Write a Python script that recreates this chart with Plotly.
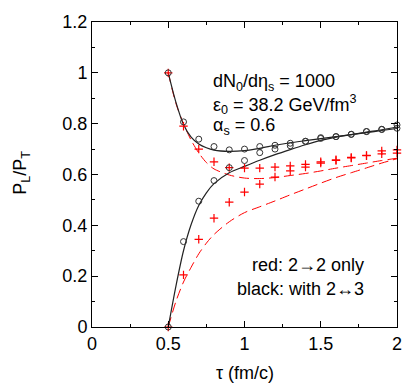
import plotly.graph_objects as go

# tau grid for the data points (fm/c)
tau_pts = [0.5, 0.6, 0.7, 0.8, 0.9, 1.0, 1.1, 1.2, 1.3, 1.4, 1.5, 1.6, 1.7, 1.8, 1.9, 2.0]

# black circles: with 2<->3
black_upper_pts = [1.0, 0.807, 0.739, 0.71, 0.697, 0.70, 0.71, 0.715, 0.723, 0.731, 0.745, 0.749, 0.758, 0.769, 0.778, 0.795]
black_lower_pts = [0.0, 0.336, 0.495, 0.576, 0.627, 0.655, 0.686, 0.70, 0.713, 0.73, 0.742, 0.749, 0.758, 0.769, 0.777, 0.782]

# red crosses: 2->2 only
red_upper_pts = [1.0, 0.79, 0.70, 0.65, 0.627, 0.625, 0.625, 0.629, 0.634, 0.64, 0.65, 0.658, 0.667, 0.675, 0.693, 0.697]
red_lower_pts = [0.0, 0.205, 0.345, 0.428, 0.491, 0.531, 0.562, 0.59, 0.614, 0.629, 0.645, 0.655, 0.665, 0.674, 0.681, 0.684]

# curves
tau_line = [0.5, 0.55, 0.6, 0.65, 0.7, 0.75, 0.8, 0.9, 1.0, 1.1, 1.2, 1.3, 1.4, 1.5, 1.6, 1.7, 1.8, 1.9, 2.0]
black_upper_line = [1.0, 0.885, 0.797, 0.747, 0.72, 0.705, 0.696, 0.691, 0.694, 0.703, 0.715, 0.725, 0.733, 0.741, 0.749, 0.757, 0.765, 0.773, 0.781]
black_lower_line = [0.0, 0.16, 0.3, 0.403, 0.478, 0.528, 0.564, 0.607, 0.632, 0.656, 0.678, 0.698, 0.717, 0.734, 0.747, 0.757, 0.767, 0.776, 0.787]
red_upper_line = [1.0, 0.88, 0.8, 0.735, 0.685, 0.647, 0.622, 0.598, 0.586, 0.584, 0.588, 0.596, 0.604, 0.614, 0.625, 0.635, 0.645, 0.655, 0.664]
red_lower_line = [0.0, 0.1, 0.177, 0.235, 0.288, 0.33, 0.364, 0.414, 0.45, 0.473, 0.496, 0.52, 0.543, 0.566, 0.588, 0.607, 0.626, 0.645, 0.662]

x_ticks = [0, 0.5, 1, 1.5, 2]
x_labels = ["0", "0.5", "1", "1.5", "2"]
y_ticks = [0, 0.2, 0.4, 0.6, 0.8, 1, 1.2]
y_labels = ["0", "0.2", "0.4", "0.6", "0.8", "1", "1.2"]

FONT = "Liberation Sans, Arial, sans-serif"
FS = 18
RED = "#ff0000"
DARK = "#222222"

fig = go.Figure()

for ys in (red_upper_line, red_lower_line):
    fig.add_trace(go.Scatter(
        x=tau_line, y=ys, mode="lines", line_shape="spline", line_smoothing=0.8,
        line=dict(color=RED, width=1, dash="10px,5px"),
        showlegend=False, hoverinfo="skip"
    ))

for ys in (black_upper_line, black_lower_line):
    fig.add_trace(go.Scatter(
        x=tau_line, y=ys, mode="lines", line_shape="spline", line_smoothing=0.8,
        line=dict(color=DARK, width=1.2),
        showlegend=False, hoverinfo="skip"
    ))

for ys in (red_upper_pts, red_lower_pts):
    fig.add_trace(go.Scatter(
        x=tau_pts, y=ys, mode="markers",
        marker=dict(symbol="cross-thin", size=6, line=dict(color=RED, width=1.2)),
        showlegend=False, cliponaxis=False
    ))

for ys in (black_upper_pts, black_lower_pts):
    fig.add_trace(go.Scatter(
        x=tau_pts, y=ys, mode="markers",
        marker=dict(symbol="circle-open", size=6, color="#333333", line=dict(width=1)),
        showlegend=False, cliponaxis=False
    ))

def note(x, y, text, anchor, xref="x", yref="y", **kw):
    fig.add_annotation(x=x, y=y, xref=xref, yref=yref, xanchor=anchor, yanchor="middle",
                       text=text, showarrow=False,
                       font=dict(size=FS, color="black", family=FONT), **kw)

# Parameter text
note(0.78, 0.963, "dN<sub>0</sub>/dη<sub>s</sub> = 1000", "left")
note(0.78, 0.875, "ε<sub>0</sub> = 38.2 GeV/fm<sup>3</sup>", "left")
note(0.78, 0.79, "α<sub>s</sub> = 0.6", "left")
note(1.795, 0.245, "red: 2→2 only", "right")
note(1.795, 0.15, "black: with 2↔3", "right")

# axis titles
note(0.5, -0.151, "τ (fm/c)", "center", xref="paper", yref="paper")
note(-0.23, 0.505, "P<sub>L</sub>/P<sub>T</sub>", "center", xref="paper", yref="paper", textangle=-90)

axis_common = dict(
    showgrid=False, zeroline=False, showline=True, linecolor="black", linewidth=1,
    mirror="allticks", ticks="inside", ticklen=6, tickcolor="black",
    tickfont=dict(size=FS, color="black", family=FONT), automargin=False,
)

fig.update_xaxes(
    range=[0, 2], tickvals=x_ticks, ticktext=x_labels,
    minor=dict(ticks="inside", dtick=0.25, ticklen=3, tickcolor="black"),
    **axis_common
)
fig.update_yaxes(
    range=[0, 1.2], tickvals=y_ticks, ticktext=y_labels,
    minor=dict(ticks="inside", dtick=0.1, ticklen=3, tickcolor="black"),
    **axis_common
)

# page body has an 8px margin, so the figure is shrunk by 8px
fig.update_layout(
    width=406, height=378,
    margin=dict(l=84, r=17, t=14, b=59),
    plot_bgcolor="white", paper_bgcolor="white",
    showlegend=False,
)

fig.write_html("out.html")
